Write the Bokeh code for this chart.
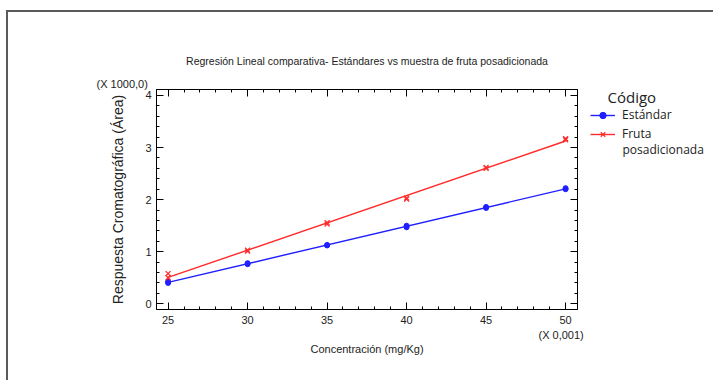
import numpy as np
from bokeh.plotting import figure
from bokeh.layouts import row
from bokeh.models import (Range1d, LinearAxis, Title, Legend, LegendItem,
                          FixedTicker, Label)
from bokeh.embed import file_html
from bokeh.resources import INLINE

# Concentración (x 0,001 mg/Kg) and chromatographic area (x 1000) per replicate
conc_estandar = [25, 25, 30, 30, 35, 35, 40, 40, 45, 45, 50, 50]
area_estandar = [0.40, 0.43, 0.76, 0.78, 1.12, 1.13, 1.47, 1.50, 1.84, 1.86, 2.20, 2.22]
conc_fruta = [25, 25, 30, 30, 35, 35, 40, 40, 45, 45, 50, 50]
area_fruta = [0.50, 0.58, 1.01, 1.03, 1.53, 1.56, 2.01, 2.03, 2.60, 2.62, 3.15, 3.17]

# legend text; the second series name wraps onto two lines
series_names = ["Estándar", "Fruta"]
series_wrap = "posadicionada"
legend_title = "Código"

x_ticks = [25, 30, 35, 40, 45, 50]
y_ticks = [0, 1, 2, 3, 4]

# page frame: 2px borders, canvases start at (OX, OY)
OX, OY = 8, 12
H = 382 - OY
MW = 584                      # chart canvas width
LW = 715 - OX - MW            # legend canvas width
FL, FR, FT, FB = 156 - OX, 577 - OX, 89 - OY, 309 - OY
X0, X1 = 24.27, 50.75
Y0, Y1 = -0.11, 4.115

SANS = "Liberation Sans"
BLUE = "#1f1fff"
RED = "#ff2a2a"
TXT = "#222222"
FRAME = "2px solid #5a5a5a"

p = figure(width=MW, height=H, output_backend="svg", toolbar_location=None,
           x_range=Range1d(X0, X1), y_range=Range1d(Y0, Y1),
           min_border_left=FL, min_border_right=MW - FR,
           min_border_top=FT, min_border_bottom=H - FB,
           x_axis_location=None, y_axis_location=None,
           title="Regresión Lineal comparativa- Estándares vs muestra de fruta posadicionada")
p.title.align = "center"
p.title.text_font = SANS
p.title.text_font_size = "10.5px"
p.title.text_font_style = "normal"
p.title.text_color = TXT
p.title.standoff = 17
p.background_fill_color = "white"
p.border_fill_color = "white"
p.outline_line_color = "black"
p.outline_line_width = 1
p.xgrid.visible = False
p.ygrid.visible = False
p.margin = (10, 0, 0, 6)
p.styles = {"border-top": FRAME, "border-left": FRAME}


def style_axis(ax, labels=True):
    ax.axis_line_color = "black"
    ax.major_tick_in = 7
    ax.major_tick_out = 0
    ax.minor_tick_in = 3
    ax.minor_tick_out = 0
    ax.major_tick_line_color = "black"
    ax.minor_tick_line_color = "black"
    ax.major_label_text_font = SANS
    ax.major_label_text_font_size = "11px"
    ax.major_label_text_color = TXT
    ax.axis_label_text_font = SANS
    ax.axis_label_text_font_style = "normal"
    ax.axis_label_text_color = TXT
    if not labels:
        ax.major_label_overrides = {t: "" for t in ax.ticker.ticks}
        ax.major_label_standoff = 0


xt = FixedTicker(ticks=x_ticks, minor_ticks=list(range(25, 51)))
yt = FixedTicker(ticks=y_ticks, minor_ticks=[round(v * 0.2, 1) for v in range(0, 21)])

bottom = LinearAxis(ticker=xt)
style_axis(bottom)
bottom.major_label_standoff = 6

left = LinearAxis(ticker=yt, axis_label="Respuesta Cromatográfica (Área)")
style_axis(left)
left.major_label_standoff = 5
left.axis_label_text_font_size = "14px"
left.axis_label_standoff = 16

top = LinearAxis(ticker=xt)
style_axis(top, labels=False)
right = LinearAxis(ticker=yt)
style_axis(right, labels=False)

p.add_layout(bottom, "below")
p.add_layout(left, "left")
p.add_layout(top, "above")
p.add_layout(right, "right")


def note(text, where, align, offset, standoff):
    p.add_layout(Title(text=text, align=align, offset=offset, standoff=standoff,
                       text_font=SANS, text_font_size="11px",
                       text_font_style="normal", text_color=TXT), where)


# scale notes for each axis, and the x axis title
note("(X 1000,0)", "above", "left", -60, 0)
note("(X 0,001)", "below", "left", 538 - 156, 0)
note("Concentración (mg/Kg)", "below", "center", 0, 0)

# Least-squares regression lines for each series
xs_line = np.array([min(x_ticks), max(x_ticks)], dtype=float)
b_std = np.polyfit(conc_estandar, area_estandar, 1)
b_fru = np.polyfit(conc_fruta, area_fruta, 1)


def draw_series(fig, xs, ys, fit, color, marker, size, mlw):
    ln = fig.line(xs_line, np.polyval(fit, xs_line), color=color, line_width=1.4)
    sc = fig.scatter(xs, ys, marker=marker, size=size, color=color,
                     line_width=mlw)
    return ln, sc


draw_series(p, conc_estandar, area_estandar, b_std, BLUE, "circle", 5, 1)
draw_series(p, conc_fruta, area_fruta, b_fru, RED, "x", 7, 1.2)

# Legend panel: its own canvas beside the chart (series plotted off-range)
lf = figure(width=LW, height=H, output_backend="svg", toolbar_location=None,
            x_range=Range1d(0, 1), y_range=Range1d(0, 1), min_border=0,
            x_axis_location=None, y_axis_location=None, title=None)
lf.outline_line_color = None
lf.xgrid.visible = False
lf.ygrid.visible = False
lf.background_fill_color = "white"
lf.border_fill_color = "white"
lf.margin = (10, 0, 0, 0)
lf.styles = {"border-top": FRAME}

r_std = draw_series(lf, conc_estandar, area_estandar, b_std, BLUE, "circle", 4, 1)
r_fru = draw_series(lf, conc_fruta, area_fruta, b_fru, RED, "x", 6, 1.2)

legend = Legend(items=[
    LegendItem(label=series_names[0], renderers=list(r_std)),
    LegendItem(label=series_names[1], renderers=list(r_fru)),
], location=(0, 167))
legend.border_line_color = None
legend.background_fill_alpha = 0
legend.padding = 0
legend.margin = 0
legend.spacing = 2
legend.glyph_width = 25
legend.glyph_height = 16
legend.label_standoff = 7
legend.label_height = 16
legend.label_text_font = "Open Sans"
legend.label_text_font_size = "12px"
legend.label_text_color = TXT
lf.add_layout(legend, "center")


# the legend canvas shares the chart's frame rows (page y 89..309)
def legend_text(text, px, py, size):
    lf.add_layout(Label(x=(px - OX - MW) / LW, y=1 - (py - 89) / (309 - 89),
                        text=text, text_baseline="middle",
                        text_font="Open Sans", text_font_size=size,
                        text_color=TXT))


legend_text(legend_title, 609, 96, "15px")
legend_text(series_wrap, 624, 149, "12px")

layout = row(p, lf, spacing=0)
open("out.html", "w").write(file_html(layout, INLINE))
